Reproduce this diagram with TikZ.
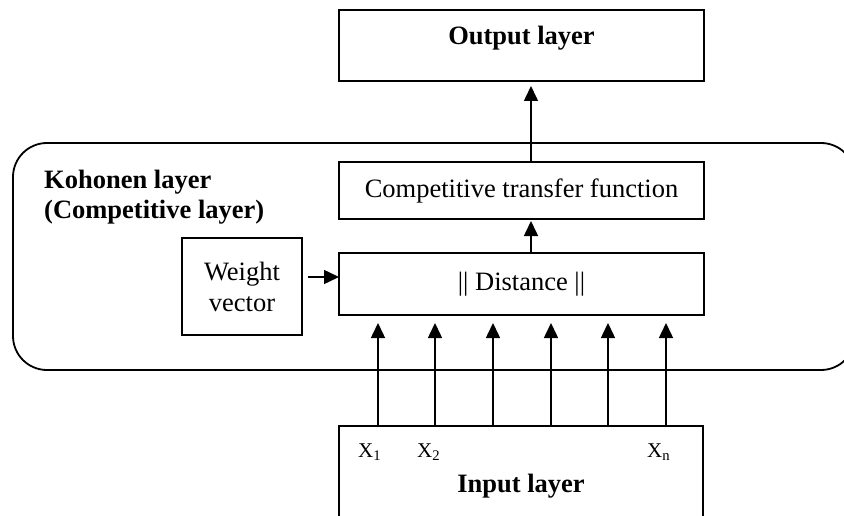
\documentclass[tikz,border=0pt]{standalone}
\usepackage{fontspec}
\setmainfont{Liberation Serif}
\usetikzlibrary{arrows.meta,calc}
\begin{document}
\begin{tikzpicture}[x=1pt,y=-1pt,
  box/.style={draw,line width=1.7pt,inner sep=0pt,outer sep=0pt},
  arr/.style={-{Triangle[length=15pt,width=14pt]},line width=1.5pt},
  txt/.style={font=\fontsize{26.5}{31}\selectfont},
  btxt/.style={font=\bfseries\fontsize{26.5}{30}\selectfont},
  xtxt/.style={font=\fontsize{21}{24}\selectfont,anchor=base west,inner sep=0pt}]
\useasboundingbox (0,0) rectangle (844,516);
\clip (0,0) rectangle (844,516);
% Kohonen layer frame
\node[draw,line width=1.8pt,rounded corners=34pt,minimum width=842pt,minimum height=227pt,inner sep=0pt] (koh) at (434,256.5) {};
\node[btxt,anchor=north west,align=left,inner sep=0pt] (kohtxt) at (44,169.5) {Kohonen layer\\(Competitive layer)};
% output
\node[box,minimum width=365pt,minimum height=71pt] (out) at (521.5,45.5) {};
\node[btxt,anchor=base,inner sep=0pt] (outtxt) at (521.5,45) {Output layer};
% competitive
\node[box,txt,minimum width=365pt,minimum height=57pt] (comp) at (521.5,190.5) {Competitive transfer function};
% distance
\node[box,txt,minimum width=365pt,minimum height=62pt] (dist) at (521.5,284) {|| Distance ||};
% weight
\node[box,txt,align=center,minimum width=120pt,minimum height=97pt] (w) at (242,286.5) {Weight\\vector};
% input
\node[box,minimum width=364pt,minimum height=110pt] (in) at (521,481) {};
\node[btxt,anchor=base,inner sep=0pt] (intxt) at (521,492) {Input layer};
\node[xtxt] (x1) at (358,457) {X\textsubscript{1}};
\node[xtxt] (x2) at (417,457) {X\textsubscript{2}};
\node[xtxt] (xn) at (647,457) {X\textsubscript{n}};
% connectors
\coordinate (ax) at (531,0);
\draw[arr,shorten >=5pt] (comp.north -| ax) -- (out.south -| ax);
\draw[arr,shorten >=2pt] (dist.north -| ax) -- (comp.south -| ax);
\coordinate (wa) at ([yshift=9.5pt]w.east);
\draw[arr,shorten <=6pt] (wa) -- (wa -| dist.west);
\foreach \xx in {378,435,493,551,608,666}
  \draw[arr,shorten >=8pt] (in.north -| \xx,0) -- (dist.south -| \xx,0);
\end{tikzpicture}
\end{document}
